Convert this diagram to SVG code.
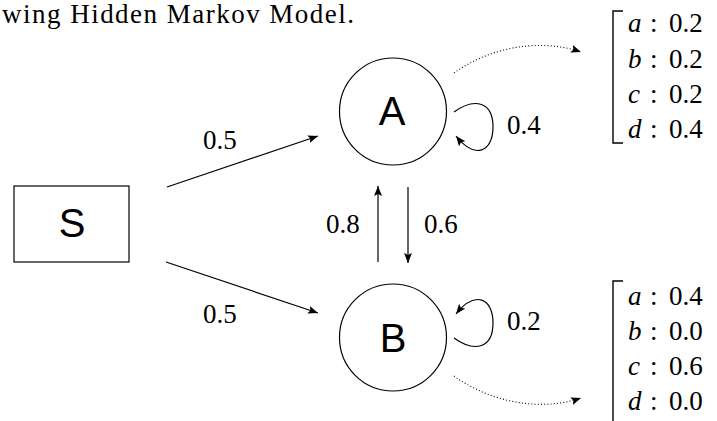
<svg xmlns="http://www.w3.org/2000/svg" width="717" height="421" viewBox="0 0 717 421">
<defs>
<marker id="ah" markerUnits="userSpaceOnUse" markerWidth="12" markerHeight="10" refX="10" refY="4" orient="auto">
<path d="M0,0 L10,4 L0,8 L2,4 Z" fill="#000"/>
</marker>
<style>
.ser{font-family:"Liberation Serif","Times New Roman",serif;font-size:27px;fill:#000}
.sans{font-family:"Liberation Sans",Arial,sans-serif;font-size:40px;fill:#000;text-anchor:middle}
.it{font-style:italic}
.node{fill:#fff;stroke:#000;stroke-width:1.2}
.edge{fill:none;stroke:#000;stroke-width:1.2;marker-end:url(#ah)}
.dot{fill:none;stroke:#000;stroke-width:1.1;stroke-dasharray:1 2.2;marker-end:url(#ah)}
.br{fill:none;stroke:#000;stroke-width:1.4}
</style>
</defs>
<rect width="717" height="421" fill="#fff"/>
<text class="ser" x="2" y="23" font-size="26" textLength="352" lengthAdjust="spacing">wing Hidden Markov Model.</text>

<g id="connectors">
<path class="edge" d="M167,187 L318,136"/>
<path class="edge" d="M166,262 L318,313"/>
<path class="edge" d="M378,262 L378,186"/>
<path class="edge" d="M408,187 L408,263"/>
<path class="edge" d="M454,112 C475,97 493,102 493,127 C493,152 475,160 456,136"/>
<path class="edge" d="M454,338 C475,353 493,348 493,323 C493,298 475,290 456,314"/>
<path class="dot" d="M454,73 C490,47 540,38 581,52"/>
<path class="dot" d="M454,376 C490,402 540,412 581,398"/>
</g>

<g id="labels">
<text class="ser" x="203" y="149">0.5</text>
<text class="ser" x="203" y="323">0.5</text>
<text class="ser" x="326" y="233">0.8</text>
<text class="ser" x="424" y="233">0.6</text>
<text class="ser" x="507" y="134">0.4</text>
<text class="ser" x="507" y="330">0.2</text>
</g>

<g id="S">
<rect class="node" x="14" y="186" width="115" height="76"/>
<text class="sans" x="72" y="237">S</text>
</g>
<g id="A">
<circle class="node" cx="393" cy="111.5" r="53.5"/>
<text class="sans" x="392" y="125">A</text>
</g>
<g id="B">
<circle class="node" cx="393" cy="337.5" r="53.5"/>
<text class="sans" x="393" y="352">B</text>
</g>

<g id="emitA">
<path class="br" d="M623,11 L613,11 L613,143 L623,143"/>
<text class="ser" y="32"><tspan class="it" x="628">a</tspan><tspan x="650">:</tspan><tspan x="669">0.2</tspan></text>
<text class="ser" y="67.5"><tspan class="it" x="628">b</tspan><tspan x="650">:</tspan><tspan x="669">0.2</tspan></text>
<text class="ser" y="103"><tspan class="it" x="628">c</tspan><tspan x="650">:</tspan><tspan x="669">0.2</tspan></text>
<text class="ser" y="138"><tspan class="it" x="628">d</tspan><tspan x="650">:</tspan><tspan x="669">0.4</tspan></text>
</g>
<g id="emitB">
<path class="br" d="M623,281 L613,281 L613,421"/>
<text class="ser" y="305"><tspan class="it" x="628">a</tspan><tspan x="650">:</tspan><tspan x="669">0.4</tspan></text>
<text class="ser" y="340"><tspan class="it" x="628">b</tspan><tspan x="650">:</tspan><tspan x="669">0.0</tspan></text>
<text class="ser" y="375"><tspan class="it" x="628">c</tspan><tspan x="650">:</tspan><tspan x="669">0.6</tspan></text>
<text class="ser" y="410"><tspan class="it" x="628">d</tspan><tspan x="650">:</tspan><tspan x="669">0.0</tspan></text>
</g>
</svg>
